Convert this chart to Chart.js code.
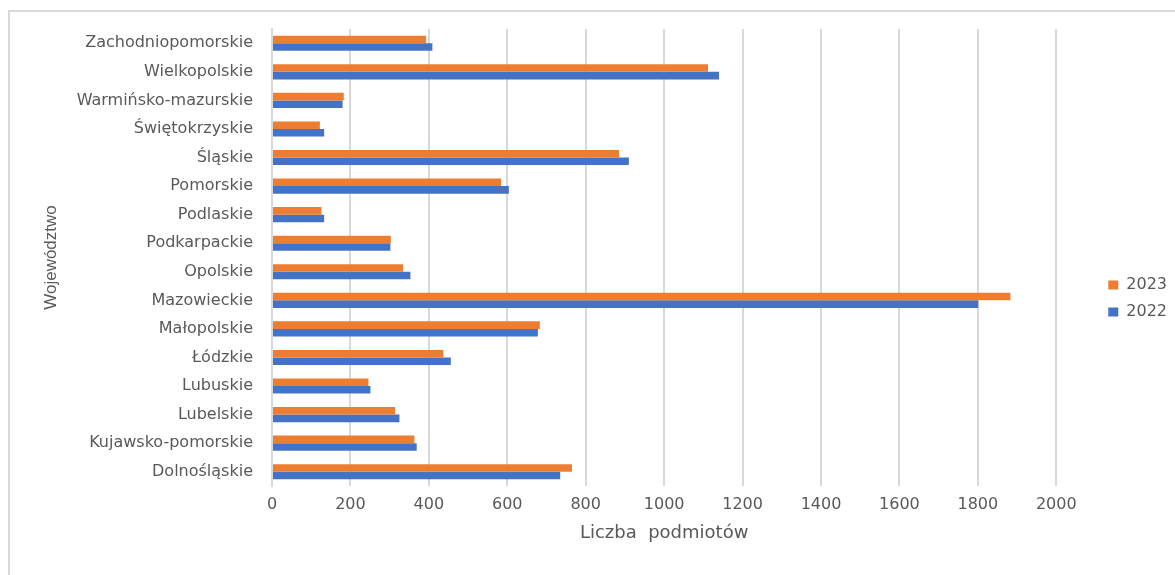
<!DOCTYPE html>
<html>
<head>
<meta charset="utf-8">
<script src="https://cdn.jsdelivr.net/npm/chart.js@4.4.1/dist/chart.umd.min.js"></script>
<style>
  html, body { margin: 0; padding: 0; background: #ffffff; overflow: hidden; }
  #frame { position: absolute; left: 8px; top: 10px; width: 1200px; height: 600px; border: 2px solid #d9d9d9; box-sizing: border-box; }
  #c { position: absolute; left: 0; top: 0; }
</style>
</head>
<body>
<div id="frame"></div>
<canvas id="c" width="1175" height="575"></canvas>
<script>
const categories = [
  "Zachodniopomorskie", "Wielkopolskie", "Warmińsko-mazurskie", "Świętokrzyskie",
  "Śląskie", "Pomorskie", "Podlaskie", "Podkarpackie", "Opolskie", "Mazowieckie",
  "Małopolskie", "Łódzkie", "Lubuskie", "Lubelskie", "Kujawsko-pomorskie", "Dolnośląskie"
];
const values2023 = [393, 1112, 183, 122, 885, 584, 126, 303, 334, 1883, 683, 437, 246, 314, 363, 765];
const values2022 = [409, 1140, 180, 133, 910, 604, 133, 302, 353, 1801, 678, 456, 251, 325, 369, 735];
const seriesNames = ["2023", "2022"];
const xTickMin = 0, xTickMax = 2000, xTickStep = 200;

const textColor = '#595959';
const gridColor = '#d9d9d9';

const legendShift = {
  id: 'legendShift',
  afterLayout(chart) {
    const lg = chart.legend;
    if (!lg) return;
    const dx = 41, dy = 11;
    lg.left += dx; lg.right += dx;
    lg.top += dy; lg.bottom += dy;
  }
};

new Chart(document.getElementById('c'), {
  type: 'bar',
  data: {
    labels: categories,
    datasets: [
      { label: seriesNames[0], data: values2023, backgroundColor: '#ED7D31', categoryPercentage: 0.53, barPercentage: 1.0 },
      { label: seriesNames[1], data: values2022, backgroundColor: '#4472C4', categoryPercentage: 0.53, barPercentage: 1.0 }
    ]
  },
  plugins: [legendShift],
  options: {
    indexAxis: 'y',
    responsive: false,
    animation: false,
    devicePixelRatio: 1,
    layout: { padding: { left: 12, top: 29, bottom: 29, right: 39 } },
    plugins: {
      legend: {
        position: 'right',
        align: 'center',
        labels: {
          color: textColor,
          font: { family: 'DejaVu Sans', size: 16 },
          boxWidth: 10,
          boxHeight: 9,
          padding: 11
        }
      },
      tooltip: { enabled: false }
    },
    scales: {
      x: {
        min: xTickMin,
        max: xTickMax,
        ticks: {
          stepSize: xTickStep,
          color: textColor,
          font: { family: 'DejaVu Sans', size: 16 },
          padding: 9,
          callback: (v) => String(v)
        },
        grid: { color: gridColor, lineWidth: 2, drawTicks: false },
        border: { display: false },
        title: {
          display: true,
          text: 'Liczba  podmiotów',
          color: textColor,
          font: { family: 'DejaVu Sans', size: 18 },
          padding: { top: 0, bottom: 2 }
        },
        afterFit(scale) { scale.height = 60; }
      },
      y: {
        ticks: {
          color: textColor,
          font: { family: 'DejaVu Sans', size: 16 },
          padding: 19,
          autoSkip: false
        },
        grid: { display: false, drawTicks: false },
        border: { display: true, color: gridColor, width: 2 },
        title: {
          display: true,
          text: 'Województwo',
          color: textColor,
          font: { family: "'Liberation Sans'", size: 17 },
          padding: { top: 29, bottom: 0 }
        },
        afterFit(scale) { scale.width = 260; }
      }
    }
  }
});
</script>
</body>
</html>
